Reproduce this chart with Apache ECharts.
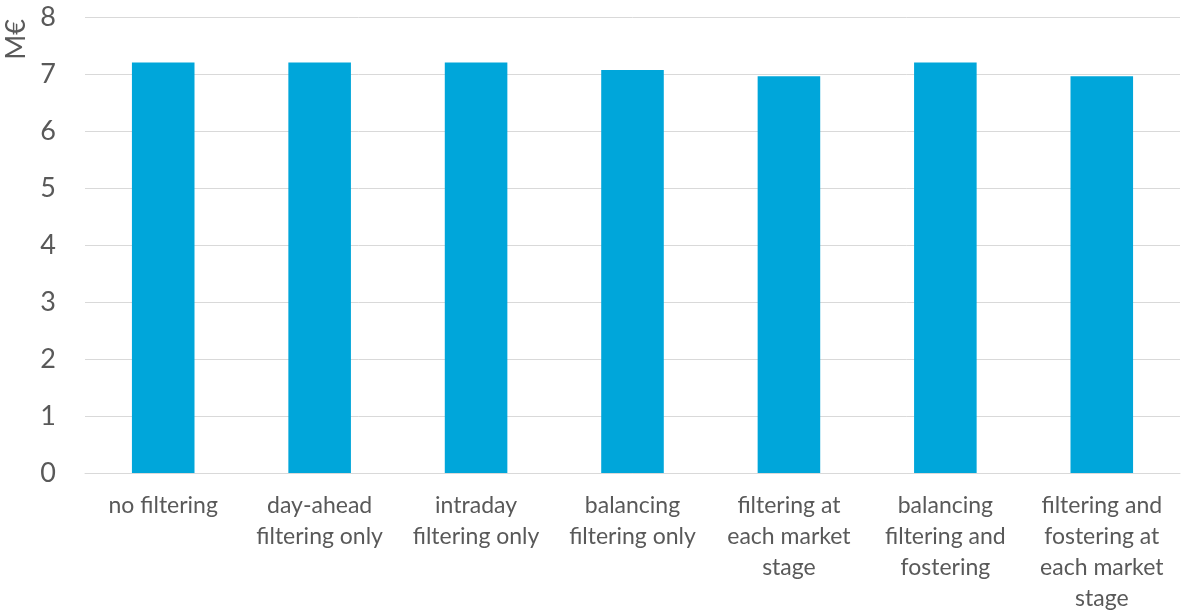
<!DOCTYPE html>
<html>
<head>
<meta charset="utf-8">
<script src="https://cdn.jsdelivr.net/npm/echarts@6/dist/echarts.min.js"></script>
<style>
  html, body { margin: 0; padding: 0; background: #fff; }
  #chart { width: 1181px; height: 614px; }
</style>
</head>
<body>
<div id="chart"></div>
<script>
// Scenario names (x axis)
const categories = [
  'no filtering',
  'day-ahead\nfiltering only',
  'intraday\nfiltering only',
  'balancing\nfiltering only',
  'filtering at\neach market\nstage',
  'balancing\nfiltering and\nfostering',
  'filtering and\nfostering at\neach market\nstage'
];
// Cost in M€
const costValues = [7.2, 7.2, 7.2, 7.07, 6.96, 7.2, 6.96];
const yTicks = [0, 1, 2, 3, 4, 5, 6, 7, 8];

const chart = echarts.init(document.getElementById('chart'));
const textColor = '#595959';
const fontFamily = 'Lato, "Open Sans", sans-serif';

chart.setOption({
  animation: false,
  grid: {
    left: 85,
    right: 1,
    top: 17,
    bottom: 138,
    containLabel: false
  },
  graphic: [{
    // rotated unit label, left of the y axis
    type: 'text',
    left: 3,
    top: 19,
    rotation: Math.PI / 2,
    style: {
      text: 'M€',
      fill: textColor,
      font: '27px ' + fontFamily
    }
  }],
  xAxis: {
    type: 'category',
    data: categories,
    axisLine: { show: true, lineStyle: { color: '#d9d9d9', width: 1 } },
    axisTick: { show: false },
    axisLabel: {
      color: textColor,
      fontFamily: fontFamily,
      fontSize: 23,
      lineHeight: 31,
      margin: 17,
      interval: 0
    }
  },
  yAxis: {
    type: 'value',
    min: yTicks[0],
    max: yTicks[yTicks.length - 1],
    interval: 1,
    axisLine: { show: false },
    axisTick: { show: false },
    splitLine: { lineStyle: { color: '#d9d9d9', width: 1 } },
    axisLabel: {
      color: textColor,
      fontFamily: fontFamily,
      fontSize: 27,
      margin: 29
    }
  },
  series: [{
    type: 'bar',
    data: costValues,
    barWidth: '40%',
    itemStyle: { color: '#00a6da' }
  }]
});
</script>
</body>
</html>
